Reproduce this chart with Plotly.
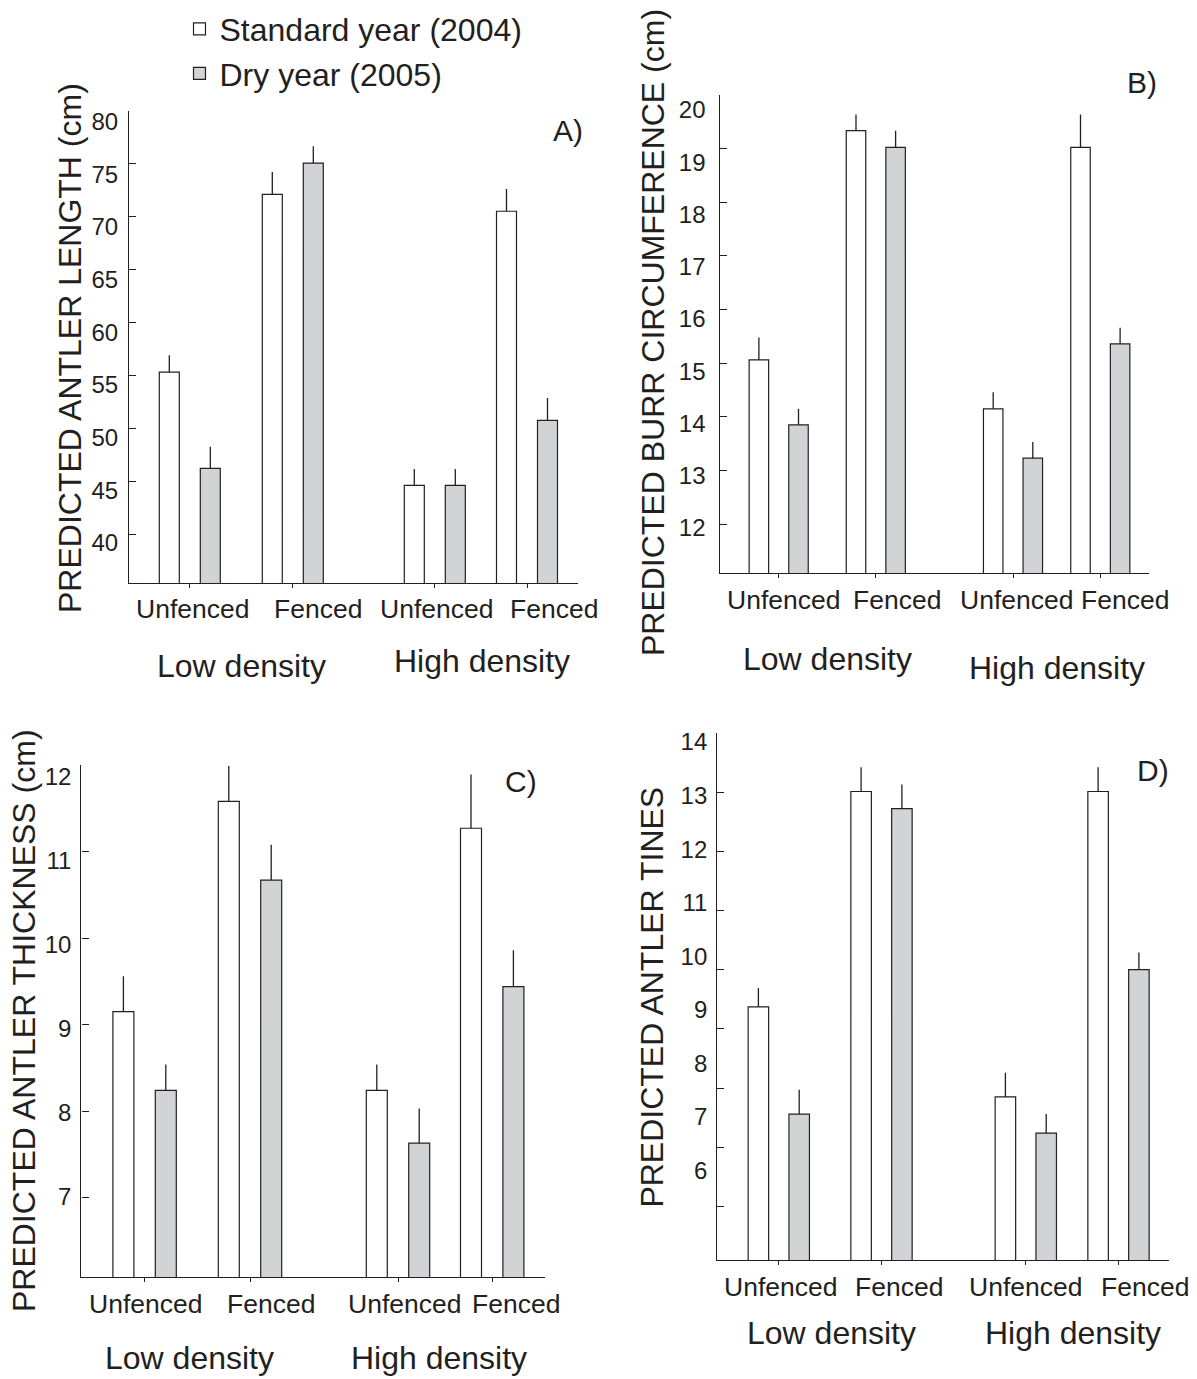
import plotly.graph_objects as go

# ---------------- data ----------------
groups = ["Low density", "High density"]
fence_labels = ["Unfenced", "Fenced", "Unfenced", "Fenced"]
series_names = ["Standard year (2004)", "Dry year (2005)"]

# Panel A: predicted antler length (cm)
A_std = [55.3, 72.1, 44.6, 70.5]
A_std_err = [1.6, 2.1, 1.55, 2.1]
A_dry = [46.2, 75.05, 44.6, 50.75]
A_dry_err = [2.05, 1.6, 1.55, 2.1]
A_ticks = [40, 45, 50, 55, 60, 65, 70, 75, 80]

# Panel B: predicted burr circumference (cm)
B_std = [15.06, 19.33, 14.15, 19.02]
B_std_err = [0.42, 0.30, 0.31, 0.61]
B_dry = [13.85, 19.02, 13.23, 15.36]
B_dry_err = [0.30, 0.31, 0.30, 0.30]
B_ticks = [12, 13, 14, 15, 16, 17, 18, 19, 20]

# Panel C: predicted antler thickness (cm)
C_std = [9.15, 11.58, 8.24, 11.27]
C_std_err = [0.41, 0.41, 0.30, 0.62]
C_dry = [8.24, 10.67, 7.63, 9.44]
C_dry_err = [0.30, 0.41, 0.40, 0.42]
C_ticks = [7, 8, 9, 10, 11, 12]

# Panel D: predicted antler tines
D_std = [9.37, 13.01, 7.85, 13.01]
D_std_err = [0.32, 0.41, 0.41, 0.41]
D_dry = [7.56, 12.72, 7.24, 10.0]
D_dry_err = [0.41, 0.41, 0.32, 0.29]
D_ticks = [6, 7, 8, 9, 10, 11, 12, 13, 14]

titles = ["PREDICTED ANTLER LENGTH (cm)", "PREDICTED BURR CIRCUMFERENCE (cm)",
          "PREDICTED ANTLER THICKNESS (cm)", "PREDICTED ANTLER TINES"]
letters = ["A)", "B)", "C)", "D)"]

# ---------------- layout (pixels) ----------------
W, H = 1197, 1379
DARK = "#231f20"
GRAY = "#d1d3d4"
FONT = "Liberation Sans, Arial, Helvetica, sans-serif"

def px(x):
    return x / W

def py(y):
    return 1 - y / H

panels = [
    dict(std=A_std, se=A_std_err, dry=A_dry, de=A_dry_err, ticks=A_ticks,
         x0=129.2, x1=578.3, y0=107, y1=581, yr=[35.35, 80], lab_r=[36.15, 81.03],
         pos=[60.6, 163.6, 305.6, 397.8], d=20.5, w=20,
         lab_x=[192.6, 318, 436, 554], lab_y=607,
         grp=[(241.7, 664), (481.6, 659)], let=(568, 126.6), tit=(70, 345), gap=10),
    dict(std=B_std, se=B_std_err, dry=B_dry, de=B_dry_err, ticks=B_ticks,
         x0=719.5, x1=1148.6, y0=91, y1=571, yr=[11.085, 20], lab_r=[11.13, 20.29],
         pos=[59.2, 156.3, 293.5, 380.8], d=19.8, w=19.5,
         lab_x=[783.5, 896.6, 1016.8, 1124.6], lab_y=598,
         grp=[(827, 657), (1057, 666)], let=(1142, 78.6), tit=(653, 330), gap=13),
    dict(std=C_std, se=C_std_err, dry=C_dry, de=C_dry_err, ticks=C_ticks,
         x0=81.4, x1=544.6, y0=763.3, y1=1277, yr=[6.08, 12], lab_r=[6.038, 12.139],
         pos=[63.2, 168.6, 316.6, 410.8], d=21.2, w=21,
         lab_x=[145.3, 271.4, 404, 515.5], lab_y=1303.5,
         grp=[(189, 1358), (439, 1358)], let=(521, 779.5), tit=(24, 1020), gap=9),
    dict(std=D_std, se=D_std_err, dry=D_dry, de=D_dry_err, ticks=D_ticks,
         x0=717.3, x1=1168.5, y0=731, y1=1260, yr=[5.09, 14], lab_r=[4.32, 14.171],
         pos=[61.5, 164.2, 308.5, 401.2], d=20.4, w=20.5,
         lab_x=[780, 899, 1025.6, 1144.6], lab_y=1286.6,
         grp=[(831, 1333), (1072.6, 1333)], let=(1152.5, 768.5), tit=(652, 996.5), gap=9),
]

fig = go.Figure()
layout = dict(
    width=W, height=H, margin=dict(l=0, r=0, t=0, b=0),
    paper_bgcolor="white", plot_bgcolor="white",
    font=dict(family=FONT, color=DARK),
    barmode="overlay", showlegend=True,
    legend=dict(x=px(179.5), y=py(-2.5), xanchor="left", yanchor="top",
                font=dict(size=32, family=FONT, color=DARK),
                bgcolor="rgba(0,0,0,0)", itemwidth=30, tracegroupgap=0),
)
annotations = []

for i, p in enumerate(panels, start=1):
    L = p["x1"] - p["x0"]
    xa = f"x{i}" if i > 1 else "x"
    ya = f"y{i}" if i > 1 else "y"
    for vals, errs, color, name, sign in [
        (p["std"], p["se"], "white", series_names[0], -1),
        (p["dry"], p["de"], GRAY, series_names[1], 1),
    ]:
        fig.add_trace(go.Bar(
            x=[c + sign * p["d"] for c in p["pos"]], y=vals, width=p["w"],
            name=name, legendgroup=name, showlegend=(i == 1),
            marker=dict(color=color, line=dict(color=DARK, width=1.2)),
            error_y=dict(type="data", symmetric=False, array=errs,
                         arrayminus=[0] * len(errs), width=0, thickness=1.3, color=DARK),
            xaxis=xa, yaxis=ya, hoverinfo="skip",
        ))
    # empty trace for the tick-label overlay axis
    fig.add_trace(go.Scatter(x=[], y=[], xaxis=xa, yaxis=f"y{i + 4}",
                             showlegend=False, hoverinfo="skip"))

    layout[f"xaxis{i if i > 1 else ''}"] = dict(
        domain=[px(p["x0"]), px(p["x1"])], range=[0, L], anchor=ya,
        showline=True, linecolor=DARK, linewidth=1.2, showgrid=False, zeroline=False,
        tickmode="array", tickvals=p["pos"], ticks="outside", ticklen=4,
        tickwidth=1.2, tickcolor=DARK, showticklabels=False, fixedrange=True,
    )
    layout[f"yaxis{i if i > 1 else ''}"] = dict(
        domain=[py(p["y1"]), py(p["y0"])], range=p["yr"], anchor=xa,
        showline=True, linecolor=DARK, linewidth=1.2, showgrid=False, zeroline=False,
        tickmode="array", tickvals=p["ticks"], ticks="inside", ticklen=7,
        tickwidth=1.2, tickcolor=DARK, showticklabels=False, fixedrange=True,
    )
    layout[f"yaxis{i + 4}"] = dict(
        overlaying=ya, anchor=xa, side="left", range=p["lab_r"],
        showline=False, showgrid=False, zeroline=False, ticks="",
        tickmode="array", tickvals=p["ticks"], ticklabelstandoff=int(p["gap"]),
        tickfont=dict(size=24, family=FONT, color=DARK), fixedrange=True,
    )

    # category labels
    for lx, txt in zip(p["lab_x"], fence_labels):
        annotations.append(dict(x=px(lx), y=py(p["lab_y"]), xref="paper", yref="paper",
                                text=txt, showarrow=False, xanchor="center", yanchor="middle",
                                font=dict(size=26.5, family=FONT, color=DARK)))
    for (gx, gy), g in zip(p["grp"], groups):
        annotations.append(dict(x=px(gx), y=py(gy), xref="paper", yref="paper",
                                text=g, showarrow=False, xanchor="center", yanchor="middle",
                                font=dict(size=32, family=FONT, color=DARK)))
    annotations.append(dict(x=px(p["let"][0]), y=py(p["let"][1]), xref="paper", yref="paper",
                            text=letters[i - 1], showarrow=False, xanchor="center",
                            yanchor="middle", font=dict(size=30, family=FONT, color=DARK)))
    annotations.append(dict(x=px(p["tit"][0]), y=py(p["tit"][1]), xref="paper", yref="paper",
                            text=titles[i - 1], showarrow=False, textangle=-90,
                            xanchor="center", yanchor="middle",
                            font=dict(size=32, family=FONT, color=DARK)))

layout["annotations"] = annotations
fig.update_layout(**layout)

fig.write_html("out.html", config=dict(displayModeBar=False),
               post_script="document.body.style.margin='0';")
